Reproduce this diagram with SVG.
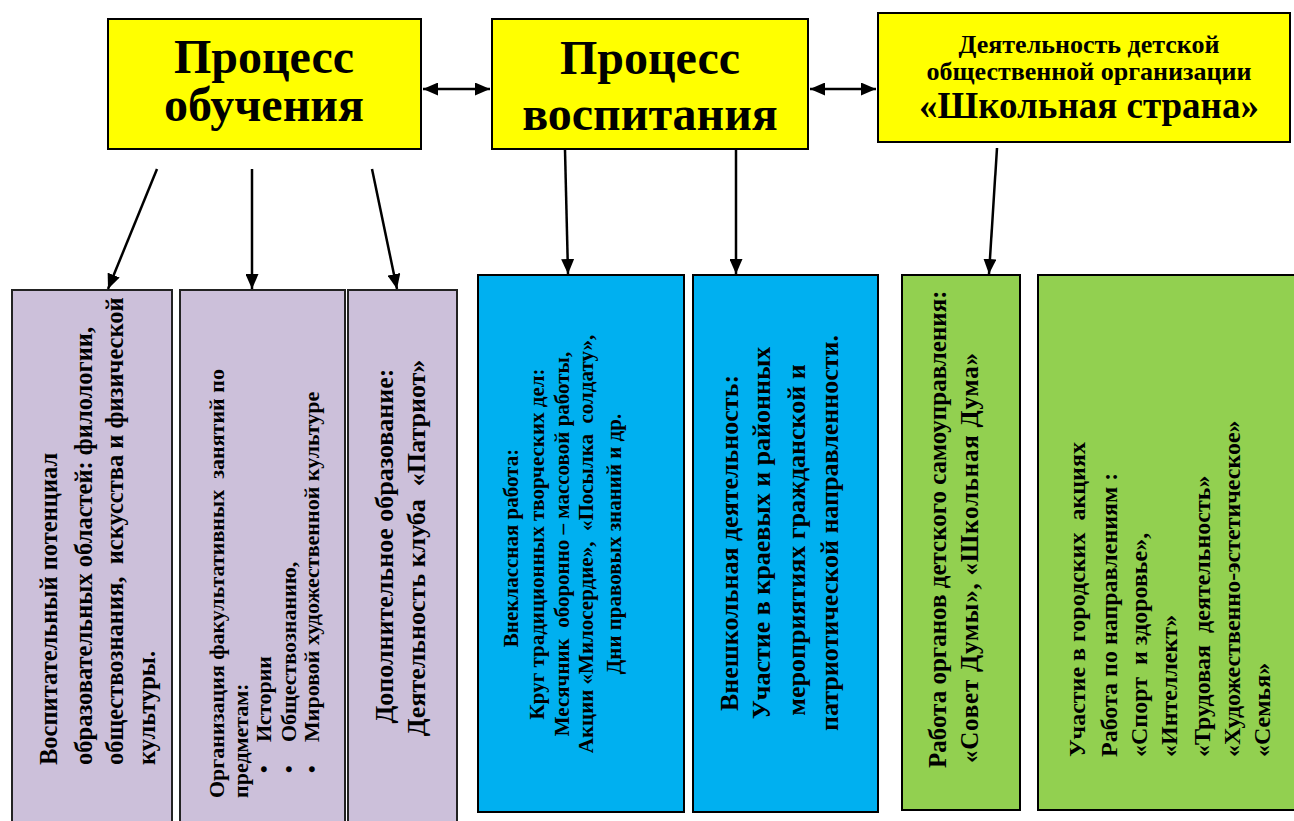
<svg xmlns="http://www.w3.org/2000/svg" width="1294" height="821" viewBox="0 0 1294 821">
<style>
.t{font-family:"Liberation Serif","Times New Roman",serif;font-weight:bold;fill:#000;white-space:pre}
.box{stroke:#000;stroke-width:2}
.y{fill:#FFFF00}
.p{fill:#CCC0DA;stroke:#222}
.b{fill:#00B0F0}
.g{fill:#92D050}
.c{stroke:#000;stroke-width:2.5;fill:none}
.m{text-anchor:middle}
</style>
<defs>
<marker id="ah" markerUnits="userSpaceOnUse" markerWidth="15" markerHeight="13" refX="15" refY="6.5" orient="auto-start-reverse" viewBox="0 0 15 13">
<path d="M0,0 L15,6.5 L0,13 z" fill="#000"/>
</marker>
</defs>
<rect width="1294" height="821" fill="#fff"/>

<g id="n-obuchenie">
<rect class="box y" x="108" y="19" width="313" height="130"/>
<text class="t m" x="264" y="73" font-size="48">Процесс</text>
<text class="t m" x="264" y="121" font-size="48">обучения</text>
</g>
<g id="n-vospitanie">
<rect class="box y" x="492" y="19" width="316" height="130"/>
<text class="t m" x="650" y="74" font-size="48">Процесс</text>
<text class="t m" x="650" y="130" font-size="48">воспитания</text>
</g>
<g id="n-strana">
<rect class="box y" x="878" y="13" width="412" height="129"/>
<text class="t m" x="1089" y="53" font-size="26">Деятельность детской</text>
<text class="t m" x="1089" y="80" font-size="26">общественной организации</text>
<text class="t m" x="1089" y="118" font-size="37">«Школьная страна»</text>
</g>

<g id="n-potencial">
<rect class="box p" x="12" y="290" width="160" height="545"/>
<g font-size="24.5">
<text class="t" transform="translate(57,765) rotate(-90)">Воспитательный потенциал</text>
<text class="t" transform="translate(92,765) rotate(-90)">образовательных областей: филологии,</text>
<text class="t" transform="translate(123,765) rotate(-90)">обществознания,  искусства и физической</text>
<text class="t" transform="translate(155,765) rotate(-90)">культуры.</text>
</g>
</g>
<g id="n-fakultativ">
<rect class="box p" x="180" y="290" width="165" height="545"/>
<g font-size="22">
<text class="t" transform="translate(224,798) rotate(-90)">Организация факультативных  занятий по</text>
<text class="t" transform="translate(248,798) rotate(-90)">предметам:</text>
<text class="t" transform="translate(271,773) rotate(-90)">•</text>
<text class="t" transform="translate(271,742) rotate(-90)">Истории</text>
<text class="t" transform="translate(296,773) rotate(-90)">•</text>
<text class="t" transform="translate(296,742) rotate(-90)">Обществознанию,</text>
<text class="t" transform="translate(319,773) rotate(-90)">•</text>
<text class="t" transform="translate(319,742) rotate(-90)">Мировой художественной культуре</text>
</g>
</g>
<g id="n-patriot">
<rect class="box p" x="348" y="290" width="109" height="545"/>
<g font-size="26">
<text class="t m" transform="translate(393,546) rotate(-90)">Дополнительное образование:</text>
<text class="t m" transform="translate(425,548) rotate(-90)">Деятельность клуба  «Патриот»</text>
</g>
</g>

<g id="n-vneklass">
<rect class="box b" x="478" y="275" width="206" height="537"/>
<g font-size="21">
<text class="t m" transform="translate(518,548) rotate(-90)">Внеклассная работа:</text>
<text class="t m" transform="translate(544,544) rotate(-90)">Круг традиционных творческих дел:</text>
<text class="t m" transform="translate(569,544) rotate(-90)">Месячник  оборонно – массовой работы,</text>
<text class="t m" transform="translate(593,544) rotate(-90)">Акции «Милосердие»,  «Посылка  солдату»,</text>
<text class="t m" transform="translate(621,544) rotate(-90)">Дни правовых знаний и др.</text>
</g>
</g>
<g id="n-vneshkol">
<rect class="box b" x="693" y="275" width="185" height="537"/>
<g font-size="26">
<text class="t m" transform="translate(738,543) rotate(-90)">Внешкольная деятельность:</text>
<text class="t m" transform="translate(770,533) rotate(-90)">Участие в краевых и районных</text>
<text class="t m" transform="translate(805,540) rotate(-90)">мероприятиях гражданской и</text>
<text class="t m" transform="translate(838,533) rotate(-90)">патриотической направленности.</text>
</g>
</g>

<g id="n-samoupr">
<rect class="box g" x="902" y="275" width="118" height="535"/>
<g font-size="25">
<text class="t" transform="translate(946,768) rotate(-90)">Работа органов детского самоуправления:</text>
<text class="t" transform="translate(978,763) rotate(-90)" textLength="410" lengthAdjust="spacing">«Совет Думы», «Школьная Дума»</text>
</g>
</g>
<g id="n-akcii">
<rect class="box g" x="1038" y="275" width="270" height="535"/>
<g font-size="24">
<text class="t" transform="translate(1085,757) rotate(-90)">Участие в городских  акциях</text>
<text class="t" transform="translate(1117,757) rotate(-90)">Работа по направлениям :</text>
<text class="t" transform="translate(1147,757) rotate(-90)">«Спорт  и здоровье»,</text>
<text class="t" transform="translate(1177,757) rotate(-90)">«Интеллект»</text>
<text class="t" transform="translate(1210,757) rotate(-90)">«Трудовая  деятельность»</text>
<text class="t" transform="translate(1240,757) rotate(-90)">«Художественно-эстетическое»</text>
<text class="t" transform="translate(1270,757) rotate(-90)">«Семья»</text>
</g>
</g>

<g id="connectors">
<line class="c" x1="423" y1="89" x2="490" y2="89" marker-start="url(#ah)" marker-end="url(#ah)"/>
<line class="c" x1="810" y1="89" x2="876" y2="89" marker-start="url(#ah)" marker-end="url(#ah)"/>
<line class="c" x1="157" y1="169" x2="108" y2="289" marker-end="url(#ah)"/>
<line class="c" x1="252" y1="169" x2="252" y2="289" marker-end="url(#ah)"/>
<line class="c" x1="372" y1="169" x2="397" y2="289" marker-end="url(#ah)"/>
<line class="c" x1="565" y1="150" x2="568" y2="274" marker-end="url(#ah)"/>
<line class="c" x1="736" y1="150" x2="736" y2="274" marker-end="url(#ah)"/>
<line class="c" x1="997" y1="148" x2="989" y2="274" marker-end="url(#ah)"/>
</g>
</svg>
